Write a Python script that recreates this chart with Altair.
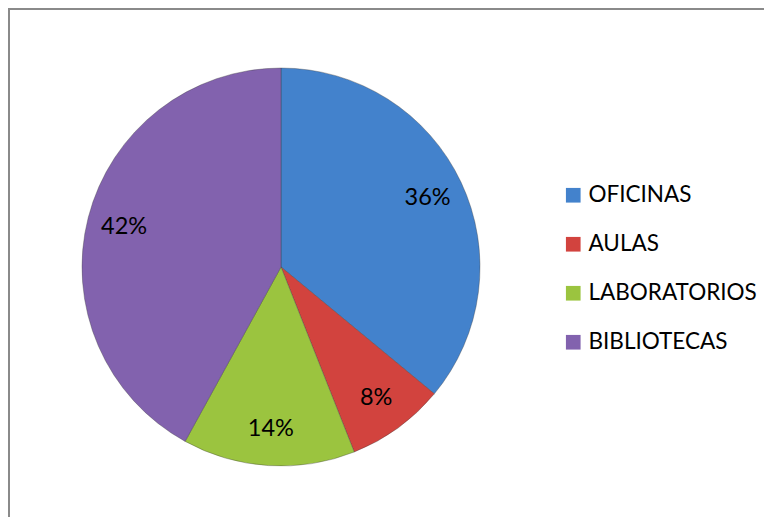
import altair as alt
import pandas as pd

categories = ["OFICINAS", "AULAS", "LABORATORIOS", "BIBLIOTECAS"]
values = [36, 8, 14, 42]
colors = ["#4382cc", "#d2433e", "#9bc43f", "#8262ae"]

df = pd.DataFrame({"cat": categories, "val": values, "idx": list(range(len(categories)))})

W, H = 756, 509
CX, CY = 273, 259
R = 199

base = alt.Chart(df).transform_calculate(lbl="format(datum.val, 'd') + '%'")

color = alt.Color(
    "cat:N",
    scale=alt.Scale(domain=categories, range=colors),
    sort=categories,
    legend=alt.Legend(
        title=None,
        orient="none",
        legendX=554,
        legendY=176,
        symbolType="square",
        symbolSize=215,
        symbolStrokeWidth=0,
        labelFontSize=22.5,
        labelFont="Lato",
        labelColor="#000000",
        labelOffset=4,
        labelLimit=400,
        rowPadding=26,
    ),
)

pie = base.mark_arc(outerRadius=R, stroke="#3a3a3a", strokeOpacity=0.35, strokeWidth=1).encode(
    theta=alt.Theta("val:Q", stack=True),
    color=color,
    order=alt.Order("idx:Q"),
    x=alt.value(CX),
    y=alt.value(CY),
)

labels = base.mark_text(radius=162, fontSize=23.5, font="Lato", color="#000000").encode(
    theta=alt.Theta("val:Q", stack=True),
    order=alt.Order("idx:Q"),
    text="lbl:N",
    x=alt.value(CX),
    y=alt.value(CY),
)

border_top = alt.Chart(df.head(1)).mark_rule(color="#8a8a8a", strokeWidth=2).encode(
    x=alt.value(0), x2=alt.value(W), y=alt.value(1)
)
border_left = alt.Chart(df.head(1)).mark_rule(color="#8a8a8a", strokeWidth=2).encode(
    x=alt.value(1), y=alt.value(0), y2=alt.value(H)
)

chart = alt.layer(pie, labels, border_top, border_left).properties(
    width=W, height=H, autosize=alt.AutoSizeParams(type="none"), padding=0
).configure_view(stroke=None).configure(background="#ffffff")

chart.save("out.html", embed_options={"renderer": "svg", "actions": False})
